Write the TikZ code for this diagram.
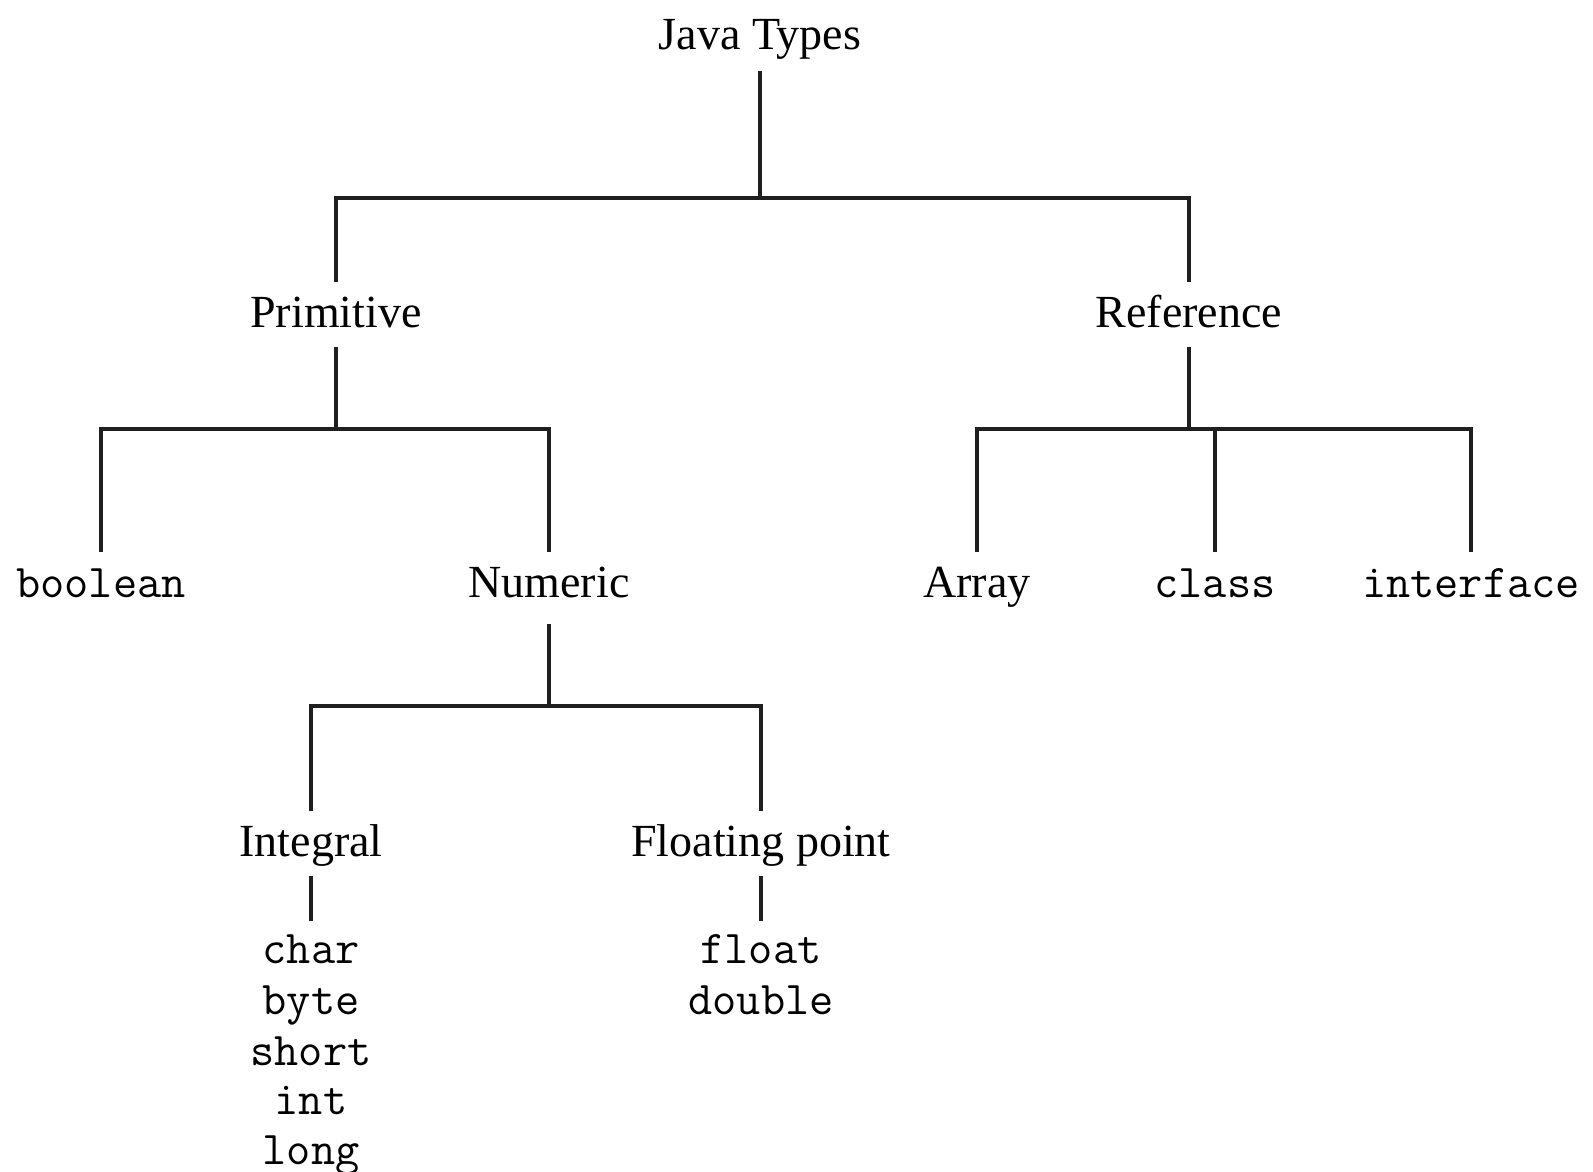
\documentclass[tikz,border=0pt]{standalone}
\usepackage{fontspec}
\setmainfont{Liberation Serif}
\begin{document}
\begin{tikzpicture}[x=1pt,y=-1pt,
  conn/.style={line width=3.3pt, draw=black!88},
  kind/.style={font=\fontsize{46}{46}\selectfont, inner sep=0pt,
               text height=45pt, text depth=20pt, anchor=base},
  kw/.style={font=\ttfamily\fontsize{47}{47}\selectfont, inner sep=0pt,
             text height=45pt, text depth=12pt, anchor=base}]
\useasboundingbox (0,0) rectangle (1593,1172);

% type names
\node[kind, text depth=22pt] (root) at (760,49) {Java Types};
\node[kind] (prim) at (336,327) {Primitive};
\node[kind] (ref) at (1189,327) {Reference};
\node[kw] (bool) at (101,597) {boolean};
\node[kind, text depth=27pt] (num) at (549,597) {Numeric};
\node[kind] (arr) at (977,597) {Array};
\node[kw] (cls) at (1215,597) {class};
\node[kw] (intf) at (1471,597) {interface};
\node[kind] (integ) at (311,856) {Integral};
\node[kind] (flt) at (761,856) {Floating point};

% integral kinds
\node[kw, text height=42pt] (char) at (311,963) {char};
\node[kw] (byte) at (311,1014) {byte};
\node[kw] (short) at (311,1065) {short};
\node[kw] (int) at (311,1114) {int};
\node[kw] (long) at (311,1164) {long};

% floating point kinds
\node[kw, text height=42pt] (float) at (761,963) {float};
\node[kw] (double) at (761,1014) {double};

% levels of the horizontal bars
\coordinate (b0) at (0,198);
\coordinate (b1) at (0,429);
\coordinate (b2) at (0,706);

% Java Types -> Primitive / Reference
\draw[conn] (root.south) -- (root.south |- b0);
\draw[conn] (prim.north) |- (b0 -| ref.north) -- (ref.north);

% Primitive -> boolean / Numeric
\draw[conn] (prim.south) -- (prim.south |- b1);
\draw[conn] (bool.north) |- (b1 -| num.north) -- (num.north);

% Reference -> Array / class / interface
\draw[conn] (ref.south) -- (ref.south |- b1);
\draw[conn] (arr.north) |- (b1 -| intf.north) -- (intf.north);
\draw[conn] (cls.north) -- (cls.north |- b1);

% Numeric -> Integral / Floating point
\draw[conn] (num.south) -- (num.south |- b2);
\draw[conn] (integ.north) |- (b2 -| flt.north) -- (flt.north);

% leaves
\draw[conn] (integ.south) -- (char.north);
\draw[conn] (flt.south) -- (float.north);
\end{tikzpicture}
\end{document}
